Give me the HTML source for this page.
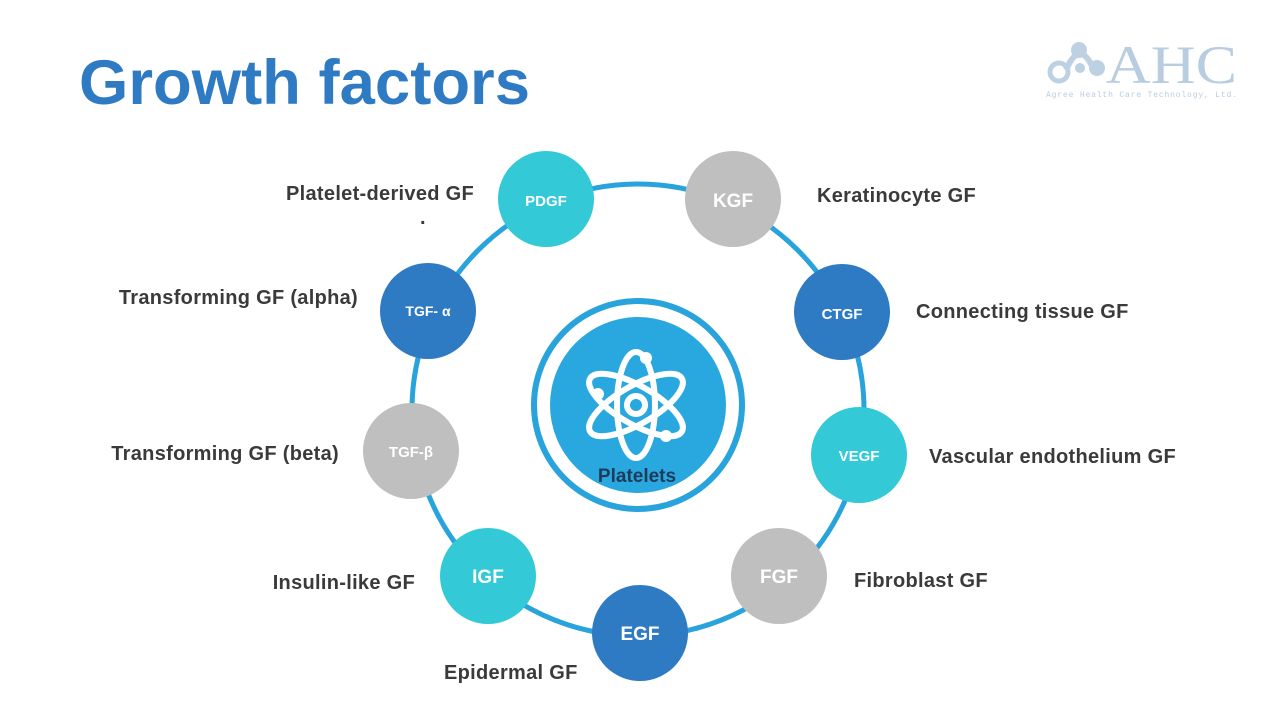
<!DOCTYPE html>
<html><head><meta charset="utf-8"><style>
html,body{margin:0;padding:0;background:#fff;}
svg{display:block;font-family:"Liberation Sans",Arial,sans-serif;}
</style></head><body>
<svg width="1280" height="720" viewBox="0 0 1280 720" xmlns="http://www.w3.org/2000/svg">
<text x="79" y="104" font-size="63" font-weight="bold" fill="#2e7bc4" textLength="451" lengthAdjust="spacingAndGlyphs">Growth factors</text>
<!-- logo -->
<g fill="#b8cde0" opacity="0.9">
<circle cx="1059" cy="72" r="9" fill="none" stroke="#b8cde0" stroke-width="5"/>
<circle cx="1079" cy="50" r="8"/>
<circle cx="1080" cy="68" r="5"/>
<circle cx="1097" cy="68" r="8"/>
<path d="M1066 70 Q1079 40 1092 66" fill="none" stroke="#b8cde0" stroke-width="6"/>
</g>
<text x="1106" y="83" font-family="Liberation Serif,serif" font-size="54" fill="#b8cde0" textLength="131" lengthAdjust="spacingAndGlyphs">AHC</text>
<text x="1046" y="97" font-family="Liberation Mono,monospace" font-size="8" fill="#b8cde0" textLength="191">Agree Health Care Technology, Ltd.</text>
<!-- ring -->
<circle cx="638" cy="410" r="226" fill="none" stroke="#29a3dc" stroke-width="5"/>
<circle cx="638" cy="405" r="104" fill="none" stroke="#29a3dc" stroke-width="6"/>
<circle cx="638" cy="405" r="88" fill="#29a8e0"/>
<g fill="none" stroke="#fff" stroke-width="6">
<ellipse cx="636" cy="405" rx="19" ry="53"/>
<ellipse cx="636" cy="405" rx="19" ry="53" transform="rotate(60 636 405)"/>
<ellipse cx="636" cy="405" rx="19" ry="53" transform="rotate(-60 636 405)"/>
<circle cx="636" cy="405" r="9"/>
</g>
<g fill="#fff"><circle cx="646" cy="358" r="6"/><circle cx="598" cy="394" r="6"/><circle cx="666" cy="436" r="6"/></g>
<text x="637" y="482" font-size="19" font-weight="bold" fill="#1f3b5a" text-anchor="middle">Platelets</text>
<!-- nodes -->
<g font-weight="bold" fill="#fff" text-anchor="middle">
<circle cx="546" cy="199" r="48" fill="#33c9d6"/><text x="546" y="206" font-size="15" fill="#fff">PDGF</text>
<circle cx="733" cy="199" r="48" fill="#bfbfbf"/><text x="733" y="207" font-size="19" fill="#fff">KGF</text>
<circle cx="842" cy="312" r="48" fill="#2e7bc4"/><text x="842" y="319" font-size="15" fill="#fff">CTGF</text>
<circle cx="859" cy="455" r="48" fill="#33c9d6"/><text x="859" y="461" font-size="15" fill="#fff">VEGF</text>
<circle cx="779" cy="576" r="48" fill="#bfbfbf"/><text x="779" y="583" font-size="19" fill="#fff">FGF</text>
<circle cx="640" cy="633" r="48" fill="#2e7bc4"/><text x="640" y="640" font-size="19" fill="#fff">EGF</text>
<circle cx="488" cy="576" r="48" fill="#33c9d6"/><text x="488" y="583" font-size="19" fill="#fff">IGF</text>
<circle cx="411" cy="451" r="48" fill="#bfbfbf"/><text x="411" y="457" font-size="15" fill="#fff">TGF-β</text>
<circle cx="428" cy="311" r="48" fill="#2e7bc4"/><text x="428" y="316" font-size="14" fill="#fff">TGF- α</text>
</g>
<g font-size="20" font-weight="bold" fill="#3a3a3a" letter-spacing="0.3">
<text x="474" y="200" text-anchor="end">Platelet-derived GF</text>
<text x="420" y="224">.</text>
<text x="817" y="202">Keratinocyte GF</text>
<text x="358" y="304" text-anchor="end">Transforming GF (alpha)</text>
<text x="916" y="318">Connecting tissue GF</text>
<text x="339" y="460" text-anchor="end">Transforming GF (beta)</text>
<text x="929" y="463">Vascular endothelium GF</text>
<text x="415" y="589" text-anchor="end">Insulin-like  GF</text>
<text x="854" y="587">Fibroblast GF</text>
<text x="444" y="679">Epidermal GF</text>
</g>
</svg>
</body></html>
